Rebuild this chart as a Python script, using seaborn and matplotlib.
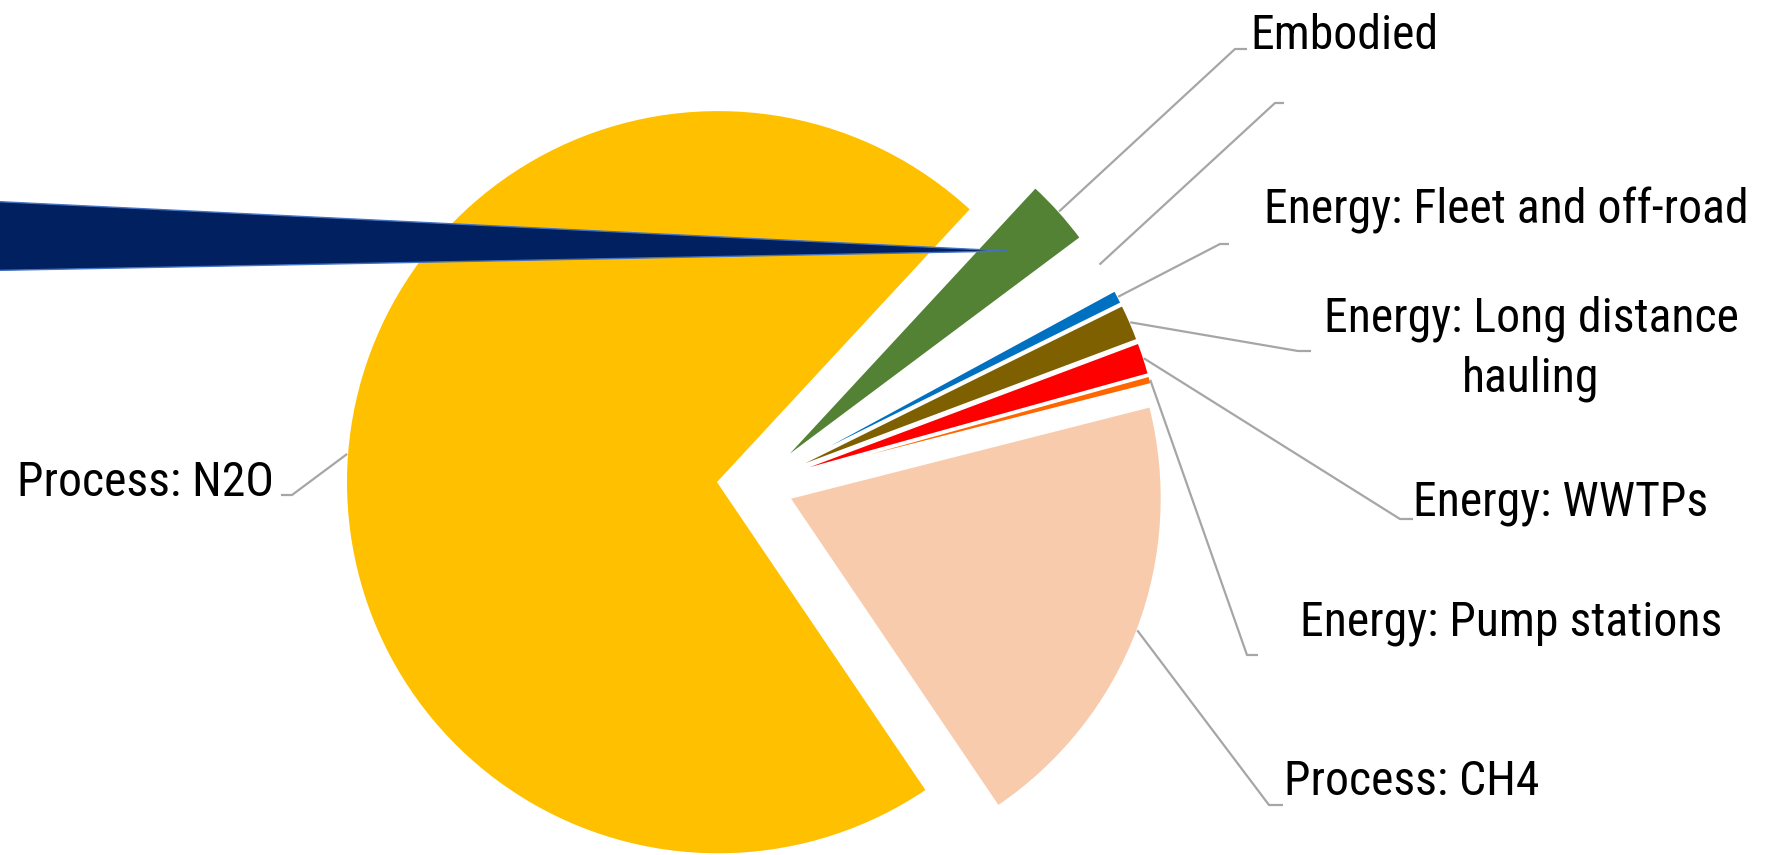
import math
import matplotlib
matplotlib.use("Agg")
import matplotlib.pyplot as plt
from matplotlib import font_manager as fm
import seaborn as sns

# Emission sources (share of total, %), listed clockwise from the N2O slice
categories = ["Process: N2O", "Embodied", "", "Energy: Fleet and off-road",
              "Energy: Long distance\nhauling", "Energy: WWTPs",
              "Energy: Pump stations", "Process: CH4"]
shares = [71.4, 2.9, 2.3, 0.6, 1.6, 1.4, 0.35, 19.5]
slice_colors = ["#FFC000", "#548235", "none", "#0070C0", "#7F6000",
                "#FF0000", "#FF6600", "#F8CBAD"]

# Stray dark-blue sliver that overlays the chart
sliver_color = "#002060"
sliver_span_deg = 3.9

sns.set_theme(style="white")

# Prefer a narrow sans face; fall back to a regular one
available = {f.name for f in fm.fontManager.ttflist}
family = next((n for n in ["Liberation Sans Narrow", "Arial Narrow",
                           "Roboto Condensed", "Nimbus Sans Narrow",
                           "Liberation Sans"] if n in available), "DejaVu Sans")
plt.rcParams["font.family"] = [family, "DejaVu Sans"]

W, H = 1777, 855
fig = plt.figure(figsize=(W / 100, H / 100), dpi=100)
ax = fig.add_axes([0, 0, 1, 1])

# Size the label font so the longest single-line label spans about 485 px
probe = fig.text(0, 0, "Energy: Fleet and off-road", fontsize=36.5)
renderer = fig.canvas.get_renderer()
probe_w = probe.get_window_extent(renderer).width
probe.remove()
label_size = min(36.5, 36.5 * 485 / probe_w)

center = (755, 370)
radius = 372
wedges, _ = ax.pie(shares, colors=slice_colors, explode=[37] * len(shares),
                   startangle=-55.9, counterclock=False, center=center,
                   radius=radius,
                   wedgeprops=dict(edgecolor="white", linewidth=1.3))
wedges[2].set_edgecolor("none")

# Dark sliver drawn from a point on the Embodied slice, fanning out to the left
sliver_tip = (1008, 604)
sl, _ = ax.pie([sliver_span_deg, 360 - sliver_span_deg],
               colors=[sliver_color, "none"], startangle=177.2,
               counterclock=True, center=sliver_tip, radius=1150)
sl[0].set_edgecolor("#4472C4")
sl[0].set_linewidth(1.0)
sl[0].set_zorder(5)
sl[1].set_visible(False)

# Leader elbows and label placement (x, y) for each slice
elbows = [(292, 360), (1235, 806), (1275, 752), (1220, 611),
          (1298, 504), (1400, 336), (1247, 200), (1269, 50)]
tail = [-11, 12, 9, 9, 13, 13, 11, 14]
text_pos = [(17, 359), (1250, 806), None, (1264, 632),
            (1531, 506), (1413, 339), (1300, 220), (1284, 60)]
text_ha = ["left", "left", "left", "left", "center", "left", "left", "left"]
text_va = ["baseline", "baseline", "baseline", "baseline", "center",
           "baseline", "baseline", "baseline"]

line_kw = dict(color="#A6A6A6", lw=1.6, solid_capstyle="butt", zorder=3)
for i, w in enumerate(wedges):
    mid = math.radians((w.theta1 + w.theta2) / 2)
    sx = w.center[0] + w.r * math.cos(mid)
    sy = w.center[1] + w.r * math.sin(mid)
    ex, ey = elbows[i]
    ax.plot([sx, ex, ex + tail[i]], [sy, ey, ey], **line_kw)
    if text_pos[i] is not None and categories[i]:
        ax.text(text_pos[i][0], text_pos[i][1], categories[i],
                fontsize=label_size, color="black", ha=text_ha[i],
                va=text_va[i], multialignment="center", linespacing=1.38,
                zorder=6)

ax.set_xlim(0, W)
ax.set_ylim(0, H)
ax.set_aspect("equal")
ax.axis("off")
fig.savefig("out.png", dpi=100, facecolor="white")
